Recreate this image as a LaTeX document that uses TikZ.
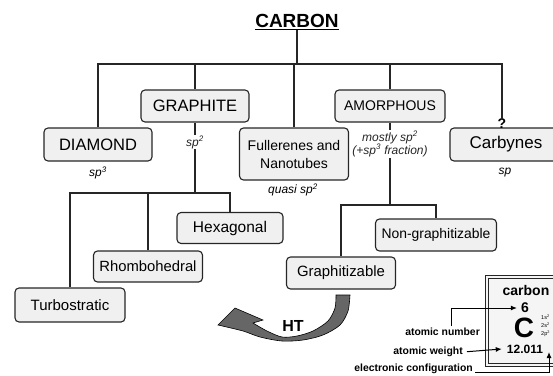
\documentclass[tikz,border=0pt]{standalone}
\usepackage{fontspec}
\setmainfont{Liberation Sans}
\usetikzlibrary{arrows.meta}
\newcommand{\setsz}[2]{\fontsize{#1}{#2}\selectfont}
\tikzset{
	kind/.style={draw=black!85, fill=gray!12, rounded corners=4pt, line width=1.1pt, inner sep=0pt, align=center},
	tree/.style={line width=1.2pt, black!85},
	hyb/.style={font=\itshape\setsz{12}{13}, align=center, inner sep=1pt},
	elab/.style={font=\bfseries\setsz{10.4}{12}, inner sep=0pt},
	pt/.style={line width=1pt, -{Latex[length=6pt,width=5pt]}}
}

\begin{document}
\begin{tikzpicture}[x=1pt, y=-1pt]
	\useasboundingbox (0,0) rectangle (553,375);

	\node[font=\bfseries\setsz{19}{20}, inner sep=0pt] (carbon) at (297, 22) {\underline{CARBON}};

	% first level
	\node[kind, minimum width=108pt, minimum height=33pt, font=\setsz{16.5}{18}] (diamond) at (98, 144.5) {DIAMOND};
	\node[kind, minimum width=108pt, minimum height=32pt, font=\setsz{16.5}{18}] (graphite) at (195, 106) {GRAPHITE};
	\node[kind, minimum width=109pt, minimum height=52pt, font=\setsz{14}{18}] (fuller) at (294, 154) {Fullerenes and\\Nanotubes};
	\node[kind, minimum width=110pt, minimum height=32pt, font=\setsz{14}{16}] (amorph) at (390, 106) {AMORPHOUS};
	\node[kind, minimum width=112pt, minimum height=33pt, font=\setsz{17}{18}] (carbyne) at (506, 144.5) {Carbynes};
	\node[font=\bfseries\setsz{14}{14}, inner sep=0pt, anchor=south] (q) at (502, 129) {?};

	\coordinate (top) at (0, 64);
	\draw[tree] (carbon.south) -- (carbon.south |- top);
	\draw[tree] (diamond.north) -- (diamond.north |- top) -| (q.north);
	\draw[tree] (graphite.north) -- (graphite.north |- top);
	\draw[tree] (fuller.north) -- (fuller.north |- top);
	\draw[tree] (amorph.north) -- (amorph.north |- top);

	\node[hyb] (sp3) at (98, 173) {sp\textsuperscript{3}};
	\node[hyb] (qsp2) at (293, 190) {quasi sp\textsuperscript{2}};
	\node[hyb] (sp) at (505, 173) {sp};

	% graphite branch
	\node[kind, minimum width=106pt, minimum height=31pt, font=\setsz{15.5}{17}] (hexa) at (230, 228) {Hexagonal};
	\node[kind, minimum width=109pt, minimum height=31pt, font=\setsz{14.8}{17}] (rhombo) at (148, 266.5) {Rhombohedral};
	\node[kind, minimum width=110pt, minimum height=34pt, font=\setsz{15}{17}] (turbo) at (70, 305) {Turbostratic};

	\coordinate (gsplit) at (graphite.south |- 0,193);
	\draw[tree] (graphite.south) -- node[pos=.28, hyb, fill=white] (sp2) {sp\textsuperscript{2}} (gsplit);
	\draw[tree] (turbo.north) |- (gsplit) -| (hexa.north);
	\draw[tree] (rhombo.north) -- (rhombo.north |- gsplit);

	% amorphous branch
	\node[kind, minimum width=121pt, minimum height=32pt, font=\setsz{13.9}{16}] (nongr) at (436, 235) {Non-graphitizable};
	\node[kind, minimum width=109pt, minimum height=32pt, font=\setsz{14.9}{17}] (graph) at (341, 273) {Graphitizable};

	\coordinate (asplit) at (amorph.south |- 0,205);
	\draw[tree] (amorph.south) -- node[pos=.26, hyb, fill=white] (mostly) {mostly sp\textsuperscript{2}\\(+sp\textsuperscript{3} fraction)} (asplit);
	\draw[tree] (graph.north) |- (asplit) -| (nongr.north);

	% heat treatment arrow
	\filldraw[fill=black!60, draw=black, line width=.6pt] (218, 325) -- (235, 308) -- (263, 320)
		-- plot[smooth] coordinates {(253, 323) (267, 331) (282, 337) (297, 336) (313, 331) (328, 321) (335, 308) (336, 295)}
		-- plot[smooth] coordinates {(350, 295) (348, 311) (340, 325) (323, 335) (303, 340) (282, 341) (260, 337) (243, 331) (218, 325)}
		-- cycle;
	\node[font=\bfseries\setsz{16}{16}, inner sep=0pt] (ht) at (293, 326) {HT};

	% element box
	\draw[line width=.8pt, black!85, fill=gray!8] (485, 275) rectangle (572, 366);
	\draw[line width=.6pt, black!85] (488, 278) rectangle (569, 363);
	\node[font=\bfseries\setsz{14}{14}, inner sep=0pt] (name) at (526, 290) {carbon};
	\node[font=\bfseries\setsz{14}{14}, inner sep=0pt] (six) at (525, 308) {6};
	\node[font=\bfseries\setsz{28}{28}, inner sep=0pt] (sym) at (524, 328) {C};
	\node[font=\bfseries\setsz{12}{12}, inner sep=0pt] (mass) at (525, 349) {12.011};
	\node[font=\setsz{5.5}{8}, inner sep=0pt, align=left, anchor=west] (conf) at (541, 326) {1s\textsuperscript{2}\\2s\textsuperscript{2}\\2p\textsuperscript{2}};
	\coordinate (ecend) at (549, 352);

	\node[elab, anchor=east] (anum) at (480, 332) {atomic number};
	\node[elab, anchor=east] (awt) at (463, 352) {atomic weight};
	\node[elab, anchor=east] (econf) at (473, 369) {electronic configuration};

	\draw[pt] ([xshift=9pt, yshift=2pt]anum.north) |- ([xshift=-4pt]six.west);
	\draw[pt, shorten <=4pt] (awt.east) -- ([xshift=-5pt]mass.west);
	\draw[pt, shorten <=2pt] ([yshift=-3pt]econf.east) -| (ecend);
\end{tikzpicture}
\end{document}
